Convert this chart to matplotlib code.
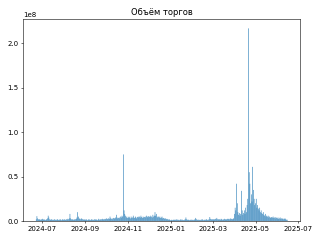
import numpy as np
import pandas as pd
import matplotlib
matplotlib.use('Agg')
import matplotlib.pyplot as plt

# daily volume, millions, from 2024-06-23
start_date = '2024-06-23'
volume_mln = [
    2, 5.5, 3, 2, 1.5, 2, 1.5,
    1.5, 2, 2.5, 1.5, 2, 1.5, 1,
    1.5, 2, 3, 6, 4, 2, 1.5,
    1.5, 2, 1.5, 1, 1.5, 2, 1.5,
    1, 1.5, 2, 1.5, 1, 1.5, 2,
    1.5, 1, 2, 1.5, 1.5, 2, 1,
    1.5, 2, 1.5, 2.5, 2, 3, 8,
    3, 2, 1.5, 2, 1.5, 1.5, 2,
    2, 2.5, 4, 10, 5, 3, 2.5,
    2, 3, 2.5, 2, 1.5, 2, 1.5,
    1.5, 2, 1.5, 1, 1.5, 2, 1.5,
    1, 1.5, 2, 1.5, 1.5, 1, 2,
    1.5, 2, 1.5, 1, 1.5, 2.5, 1.5,
    2, 1.5, 2, 2.5, 1.5, 2, 2,
    2.5, 2, 3, 2.5, 2, 3, 2.5,
    5, 3, 2.5, 3, 2, 3.5, 3,
    3, 4, 7, 4, 3, 3.5, 4,
    3, 5, 4, 6, 5, 75, 12,
    8, 6, 4, 5, 3.5, 4, 5,
    4, 3, 5, 3.5, 4, 6, 4,
    3.5, 5, 4, 3, 4.5, 5, 4,
    5, 4, 6, 4.5, 3.5, 5, 4,
    4.5, 5, 4, 6, 5, 4, 5.5,
    5, 4.5, 6, 5, 4, 7, 5,
    6, 10, 6, 8, 5, 4, 5,
    4, 5, 3.5, 4, 5, 3, 3.5,
    3, 2.5, 3, 2, 2.5, 2, 1.5,
    2, 1.5, 1, 1, 1.5, 1, 1.5,
    1, 1.5, 1.5, 1, 2, 1.5, 1,
    1.5, 1, 1.5, 2, 1, 1.5, 1,
    1, 1.5, 2, 4, 2, 1.5, 1,
    1.5, 1, 1.5, 1, 1.5, 1, 1.5,
    1, 1.5, 2, 3.5, 2, 1.5, 1,
    1.5, 1, 1.5, 1, 1.5, 2, 1.5,
    1, 1.5, 1, 1.5, 2, 1.5, 1,
    1.5, 2, 4.5, 2.5, 2, 1.5, 2,
    2, 1.5, 2, 2.5, 2, 3.5, 2,
    2, 1.5, 2, 1.5, 2.5, 2, 1.5,
    1.5, 2, 2.5, 2, 1.5, 2, 2.5,
    2, 2.5, 2, 3, 2, 2.5, 2,
    2.5, 3, 8, 15, 12, 42, 20,
    10, 7, 9, 6, 8, 34, 12,
    7, 9, 12, 8, 15, 10, 18,
    25, 217, 55, 42, 20, 30, 22,
    61, 35, 25, 18, 20, 25, 15,
    18, 14, 12, 15, 10, 12, 9,
    8, 10, 7, 6, 8, 5, 6,
    5, 6, 4, 5, 4, 3.5, 4.5,
    4, 5, 3.5, 4, 3, 4.5, 3.5,
    3, 4, 2.5, 3, 4, 2.5, 3,
    2.5, 3, 2, 2.5, 3, 2, 1.5,
    1.5,
]

dates = pd.date_range(start_date, periods=len(volume_mln), freq='D')
volume = np.array(volume_mln) * 1e6

fig, ax = plt.subplots(figsize=(6.4, 4.8), dpi=50)
bars = ax.bar(dates, volume)
for b in bars:
    b.set_snap(False)
ax.set_title('Объём торгов')
fig.subplots_adjust(left=0.073, right=0.9375, top=0.922, bottom=0.079)
fig.savefig('out.png')
